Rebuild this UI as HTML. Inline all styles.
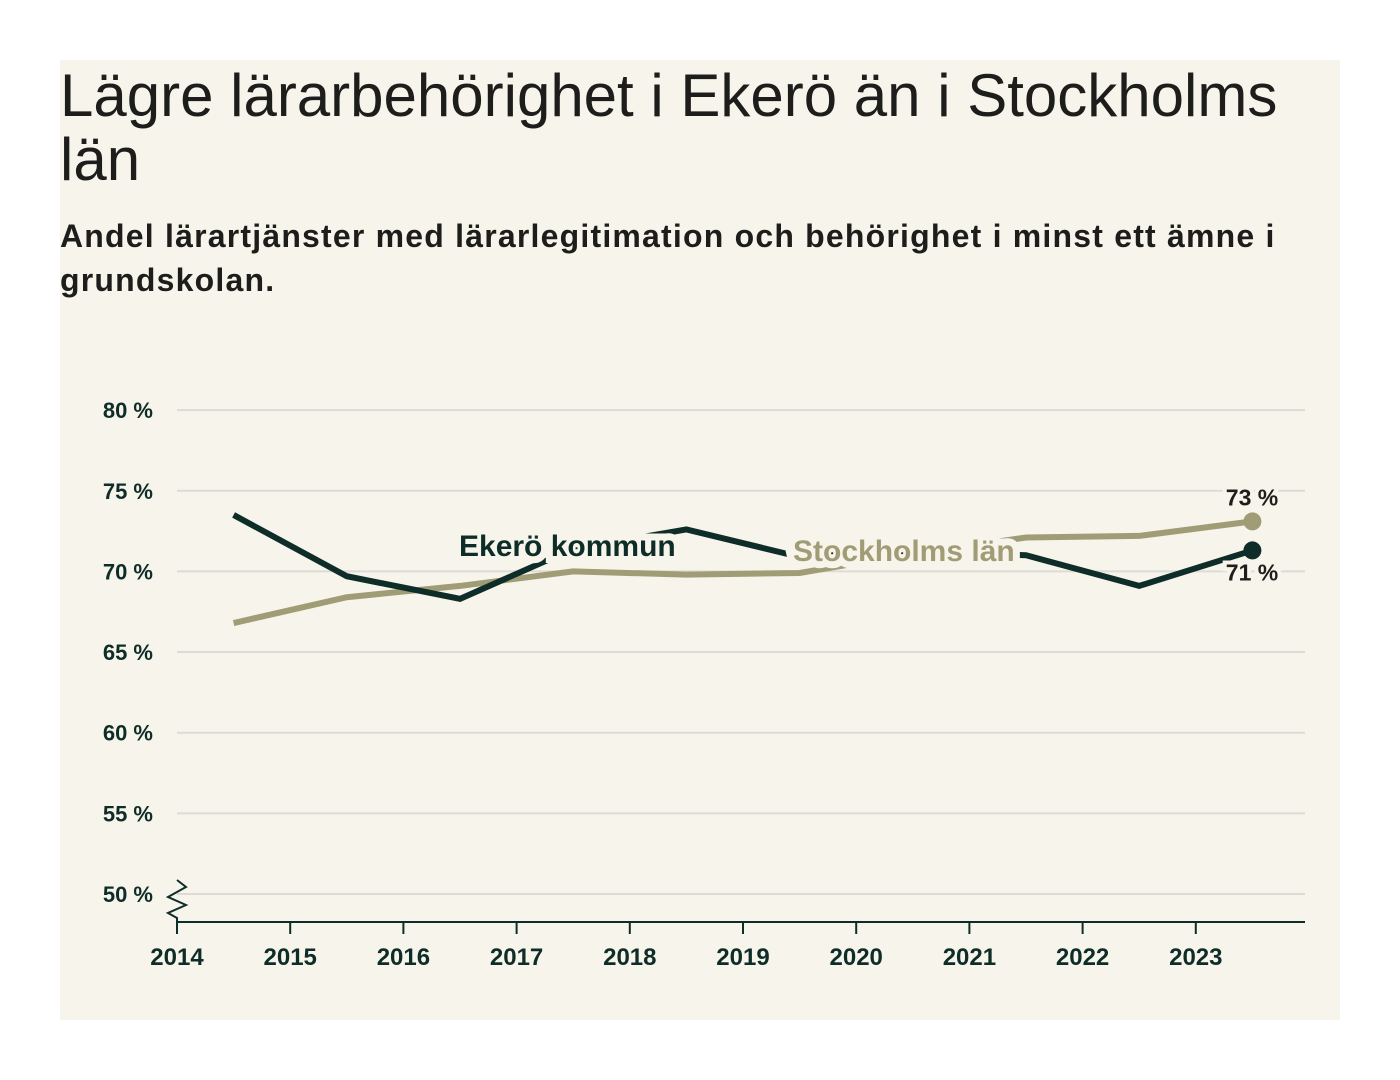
<!DOCTYPE html>
<html><head><meta charset="utf-8"><style>
body{margin:0;width:1400px;height:1080px;background:#fff;font-family:"Liberation Sans",sans-serif;}
#panel{position:absolute;left:60px;top:60px;width:1280px;height:960px;background:#f7f5eb;}
h1{position:absolute;left:0;top:4px;margin:0;font-size:60px;font-weight:500;line-height:64px;color:#1d1d1b;width:1260px;letter-spacing:0px}
h2{position:absolute;left:0;top:154px;margin:0;font-size:32px;font-weight:bold;line-height:44px;color:#1d1d1b;width:1270px;letter-spacing:1.2px}
svg{position:absolute;left:0;top:0}
</style></head><body>
<div id="panel">
<h1>Lägre lärarbehörighet i Ekerö än i Stockholms län</h1>
<h2>Andel lärartjänster med lärarlegitimation och behörighet i minst ett ämne i grundskolan.</h2>
</div>
<svg id="chart" width="1400" height="1080"></svg>
<script>
const years=[2014,2015,2016,2017,2018,2019,2020,2021,2022,2023];
const yTicks=[50,55,60,65,70,75,80];
const pointYears=[2014.5,2015.5,2016.5,2017.5,2018.5,2019.5,2020.5,2021.5,2022.5,2023.5];
const ekero=[73.5,69.7,68.3,71.4,72.6,70.9,71.3,71.0,69.1,71.3];
const stockholm=[66.8,68.4,69.1,70.0,69.8,69.9,71.1,72.1,72.2,73.1];
const NS='http://www.w3.org/2000/svg';
const svg=document.getElementById('chart');
const x=v=>177+(v-2014)*113.2;
const y=v=>894-(v-50)*16.13;
function mk(t,a){const e=document.createElementNS(NS,t);for(const k in a)e.setAttribute(k,a[k]);svg.appendChild(e);return e;}
yTicks.forEach(t=>{
 const l=mk('line',{x1:177,x2:1305,y1:y(t),y2:y(t),stroke:'#dcdbd6','stroke-width':2});
 
 
 const tx=mk('text',{x:153,y:y(t)+8,'text-anchor':'end','font-size':22,'font-weight':'bold',fill:'#0f2d28'});
 tx.textContent=t+' %';
 
 
});
const ax=mk('line',{x1:177,x2:1305,y1:922,y2:922,stroke:'#0f2d28','stroke-width':2});


const br=mk('polyline',{points:'177,880 186,887 168,897 186,905 168,913 177,918 177,922',fill:'none',stroke:'#0f2d28','stroke-width':2});


years.forEach(yr=>{
 const t=mk('line',{x1:x(yr),x2:x(yr),y1:922,y2:934,stroke:'#0f2d28','stroke-width':2});
 
 
 const tx=mk('text',{x:x(yr),y:965,'text-anchor':'middle','font-size':24,'font-weight':'bold',fill:'#0f2d28'});
 tx.textContent=yr;
 
 
});
function series(vals,col,name){
 const p=mk('polyline',{points:vals.map((v,i)=>x(pointYears[i])+','+y(v)).join(' '),fill:'none',stroke:col,'stroke-width':6,'stroke-linejoin':'miter'});
 
 
 const n=vals.length-1;
 const c=mk('circle',{cx:x(pointYears[n]),cy:y(vals[n]),r:9,fill:col});
 
 
}
series(stockholm,'#a09d76','stockholm');
series(ekero,'#0f2d28','ekero');
function label(txt,xx,yy,col,name,size,anchor,sw){
 const t=mk('text',{x:xx,y:yy,fill:col,'font-size':size,'font-weight':'bold',stroke:'#f7f5eb','stroke-width':sw,'paint-order':'stroke','text-anchor':anchor||'start'});
 t.textContent=txt;
 
 
}
label('Ekerö kommun',459,556,'#0f2d28','ekero-label',30,'start',14);
label('Stockholms län',793,561,'#a09d76','stockholm-label',30,'start',14);
label(Math.round(stockholm[9])+' %',1252,y(stockholm[9])-16,'#1d1d1b','stockholm-end-value',23,'middle',8);
label(Math.round(ekero[9])+' %',1252,y(ekero[9])+30,'#1d1d1b','ekero-end-value',23,'middle',8);
</script>
</body></html>
